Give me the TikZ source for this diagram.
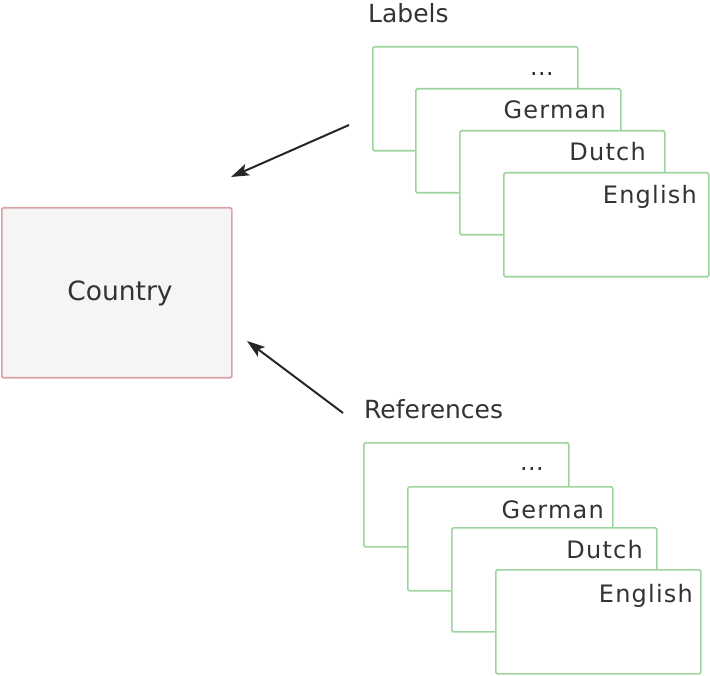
\documentclass[tikz,border=0pt]{standalone}
\usepackage{fontspec}
\setmainfont{DejaVu Sans}
\newfontfamily\spacedfont{DejaVu Sans}[LetterSpace=5]
\usetikzlibrary{arrows.meta}
\definecolor{boxgreen}{HTML}{9ED49E}
\definecolor{boxred}{HTML}{D9A3A6}
\definecolor{boxgray}{HTML}{F5F5F5}
\definecolor{txt}{HTML}{333333}
\tikzset{
  card/.style={draw=boxgreen, line width=1.7pt, fill=white, rounded corners=1.5pt,
    anchor=north west, inner sep=0pt, minimum width=205pt, minimum height=104pt},
  cardtext/.style={anchor=base east, inner sep=0pt, text=txt, font=\spacedfont\fontsize{24}{28}\selectfont},
  title/.style={anchor=base west, inner sep=0pt, text=txt, font=\fontsize{25}{30}\selectfont},
  entity/.style={draw=boxred, line width=1.7pt, fill=boxgray, rounded corners=1.5pt,
    anchor=north west, inner sep=0pt, minimum width=230pt, minimum height=170pt},
  conn/.style={line width=2pt, draw=black!85, -{Stealth[length=18pt,width=12pt,inset=4pt]}}
}
\begin{document}
\begin{tikzpicture}[x=1pt,y=-1pt]
\useasboundingbox (0,0) rectangle (710,676);
% Country
\node[entity] (country) at (1,207) {};
\node[anchor=base, inner sep=0pt, text=txt, font=\fontsize{26.5}{30}\selectfont] (countrytxt) at (120,301) {Country};
% Labels stack
\node[title] (labels) at (368,23) {Labels};
\node[card] (l1) at (372,46) {};
\node[cardtext, font=\fontsize{24}{28}\selectfont] (l1t) at (554,76) {…};
\node[card] (l2) at (415,88) {};
\node[cardtext] (l2t) at (606,119) {German};
\node[card] (l3) at (459,130) {};
\node[cardtext] (l3t) at (646,161) {Dutch};
\node[card] (l4) at (503,172) {};
\node[cardtext] (l4t) at (697,204) {English};
% References stack
\node[title] (refs) at (364,419) {References};
\node[card] (r1) at (363,442) {};
\node[cardtext, font=\fontsize{24}{28}\selectfont] (r1t) at (544,471) {…};
\node[card] (r2) at (407,486) {};
\node[cardtext] (r2t) at (604,518) {German};
\node[card] (r3) at (451,527) {};
\node[cardtext] (r3t) at (643,558) {Dutch};
\node[card] (r4) at (495,569) {};
\node[cardtext] (r4t) at (693,602) {English};
% arrows
\coordinate (a1s) at (349,125);
\coordinate (a1e) at (231,177);
\coordinate (a2s) at (343,413);
\coordinate (a2e) at (247,341);
\draw[conn] (a1s) -- (a1e);
\draw[conn] (a2s) -- (a2e);
\end{tikzpicture}
\end{document}
